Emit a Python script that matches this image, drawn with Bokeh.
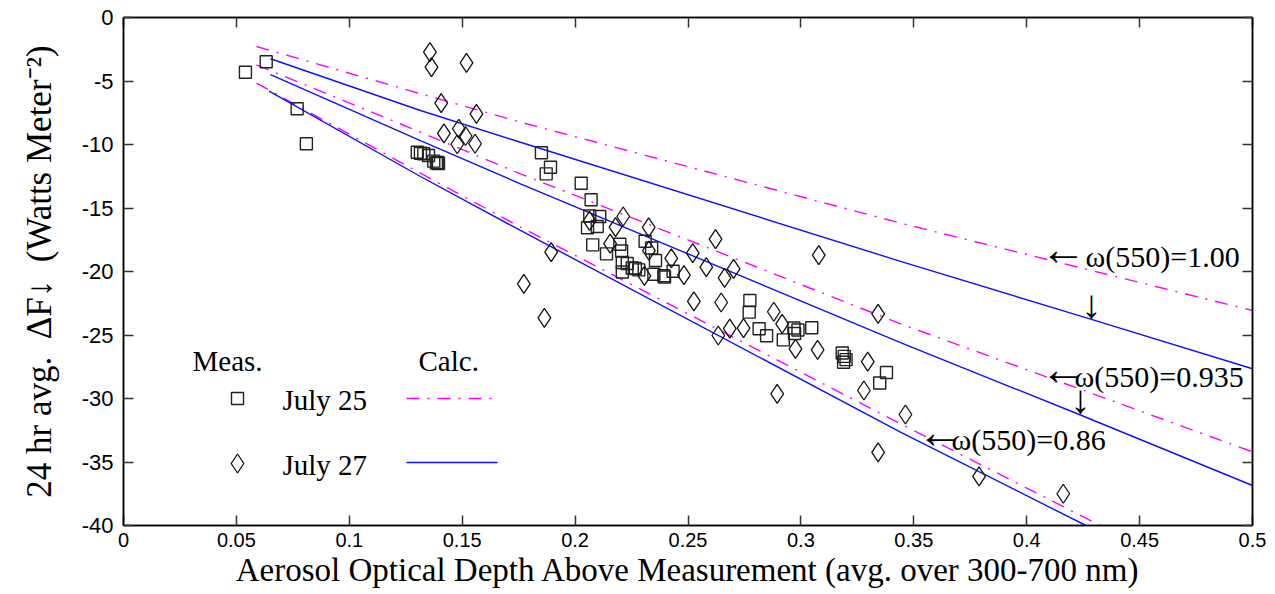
from bokeh.plotting import figure
from bokeh.models import Range1d, FixedTicker, LinearAxis, Label
from bokeh.embed import file_html
from bokeh.resources import INLINE

# ---------------- data ----------------
x_ticks = [0, 0.05, 0.1, 0.15, 0.2, 0.25, 0.3, 0.35, 0.4, 0.45, 0.5]
x_tick_labels = ["0", "0.05", "0.1", "0.15", "0.2", "0.25", "0.3", "0.35", "0.4", "0.45", "0.5"]
y_ticks = [0, -5, -10, -15, -20, -25, -30, -35, -40]
y_tick_labels = ["0", "-5", "-10", "-15", "-20", "-25", "-30", "-35", "-40"]

# measured, July 25 (squares)
jul25_aod = [0.0540, 0.0632, 0.0769, 0.0810, 0.1301, 0.1315, 0.1330, 0.1351, 0.1374, 0.1386,
             0.1392, 0.1395, 0.1851, 0.1891, 0.1872, 0.2027, 0.2071, 0.2065, 0.2109, 0.2055,
             0.2098, 0.2078, 0.2139, 0.2198, 0.2206, 0.2209, 0.2209, 0.2231, 0.2253, 0.2267,
             0.2282, 0.2310, 0.2339, 0.2356, 0.2349, 0.2393, 0.2396, 0.2434, 0.2774, 0.2771,
             0.2815, 0.2848, 0.2922, 0.2969, 0.2987, 0.2972, 0.3048, 0.3183, 0.3192, 0.3200,
             0.3189, 0.3379, 0.3349]
jul25_dF = [-4.31, -3.49, -7.19, -9.94, -10.61, -10.69, -10.73, -10.87, -11.31, -11.47,
            -11.42, -11.50, -10.65, -11.79, -12.31, -13.05, -14.35, -15.63, -15.67, -16.55,
            -16.46, -17.90, -18.61, -17.86, -18.39, -19.29, -20.04, -19.37, -19.72, -19.76,
            -19.87, -17.62, -18.15, -19.13, -20.22, -20.34, -20.43, -19.98, -22.28, -23.20,
            -24.51, -25.06, -25.38, -24.45, -24.61, -24.88, -24.43, -26.42, -26.68, -26.94,
            -27.14, -27.95, -28.78]

# measured, July 27 (diamonds)
jul27_aod = [0.1357, 0.1364, 0.1519, 0.1407, 0.1563, 0.1419, 0.1485, 0.1515, 0.1478, 0.1557,
             0.1894, 0.1773, 0.1864, 0.2064, 0.2213, 0.2179, 0.2155, 0.2326, 0.2327, 0.2307,
             0.2426, 0.2482, 0.2521, 0.2581, 0.2622, 0.2662, 0.2702, 0.2526, 0.2647, 0.2634,
             0.2685, 0.2746, 0.2880, 0.2917, 0.2976, 0.3074, 0.2895, 0.3079, 0.3342, 0.3296,
             0.3279, 0.3342, 0.3463, 0.3789, 0.4162]
jul27_dF = [-2.73, -3.91, -3.57, -6.75, -7.58, -9.13, -8.76, -9.33, -9.98, -9.94,
            -18.48, -20.97, -23.65, -16.02, -15.67, -16.51, -17.80, -16.52, -18.35, -20.35,
            -18.96, -20.28, -18.56, -19.66, -17.45, -20.51, -19.79, -22.35, -22.44, -25.04,
            -24.49, -24.45, -23.17, -24.12, -26.09, -26.17, -29.63, -18.71, -23.33, -27.10,
            -29.37, -34.25, -31.26, -36.14, -37.50]

# calculated, July 25 (magenta dash-dot), single scattering albedo 1.00 / 0.935 / 0.86
calc25_w100_aod = [0.0589, 0.1315, 0.1758, 0.3441, 0.5]
calc25_w100_dF = [-2.28, -6.00, -8.24, -16.19, -23.07]
calc25_w0935_aod = [0.0589, 0.1315, 0.1758, 0.3441, 0.5]
calc25_w0935_dF = [-3.73, -9.03, -12.31, -24.12, -34.20]
calc25_w086_aod = [0.0589, 0.1279, 0.1758, 0.3441, 0.4326]
calc25_w086_dF = [-5.17, -11.91, -16.50, -31.99, -40.00]

# calculated, July 27 (blue solid)
calc27_w100_aod = [0.0651, 0.1315, 0.1758, 0.3441, 0.4283, 0.5]
calc27_w100_dF = [-3.25, -7.32, -9.82, -19.20, -23.75, -27.66]
calc27_w0935_aod = [0.0651, 0.1315, 0.1758, 0.3441, 0.4238, 0.5]
calc27_w0935_dF = [-4.49, -9.69, -13.10, -25.60, -31.30, -36.85]
calc27_w086_aod = [0.0645, 0.1315, 0.1758, 0.3441, 0.4262]
calc27_w086_dF = [-5.80, -12.52, -16.77, -32.65, -40.00]

# ---------------- layout helpers (image px -> data) ----------------
X0, XS, Y0, YS = 123.0, 2258.0, 17.0, 12.7
def dx(px):
    return (px - X0) / XS
def dy(py):
    return -(py - Y0) / YS

SERIF = "Liberation Serif"
SANS = "Liberation Sans"
MAG = "#ff00ff"
BLUE = "#1010ff"
DASHDOT = "13 8 2 8"

p = figure(width=1272, height=592, x_range=Range1d(0, 0.5), y_range=Range1d(-40, 0),
           output_backend="svg", toolbar_location=None,
           min_border_left=123, min_border_right=20, min_border_top=17, min_border_bottom=67)
p.grid.visible = False
p.outline_line_color = "black"
p.outline_line_width = 1.5
p.background_fill_color = "white"
p.border_fill_color = "white"

def style_axis(ax, ticks, labels, show_labels, size="20px"):
    ax.ticker = FixedTicker(ticks=ticks)
    ax.major_tick_in = 10
    ax.major_tick_out = 0
    ax.minor_tick_line_color = None
    ax.major_tick_line_color = "#333333"
    ax.major_tick_line_width = 1.5
    ax.axis_line_color = "black"
    ax.axis_line_width = 1.5
    ax.major_label_text_font = SANS
    ax.major_label_text_color = "black"
    if show_labels:
        ax.major_label_overrides = {t: l for t, l in zip(ticks, labels)}
        ax.major_label_text_font_size = size
    else:
        ax.major_label_overrides = {t: "" for t in ticks}
        ax.major_label_text_font_size = "10px"
        ax.major_label_standoff = 0

xa = p.xaxis[0]
style_axis(xa, x_ticks, x_tick_labels, True, "20px")
xa.major_label_standoff = 7
xa.axis_label = "Aerosol Optical Depth Above Measurement (avg. over 300-700 nm)"
xa.axis_label_text_font = SERIF
xa.axis_label_text_font_size = "33px"
xa.axis_label_text_font_style = "normal"
xa.axis_label_text_color = "black"
xa.axis_label_standoff = 2

ya = p.yaxis[0]
style_axis(ya, y_ticks, y_tick_labels, True, "22px")
ya.major_label_standoff = 10
ya.axis_label = "24 hr avg.\u00a0\u00a0\u0394F\u2193\u00a0\u00a0(Watts Meter\u207b\u00b2)"
ya.axis_label_text_font = SERIF
ya.axis_label_text_font_size = "35px"
ya.axis_label_text_font_style = "normal"
ya.axis_label_text_color = "black"
ya.axis_label_standoff = 20

ra = LinearAxis()
style_axis(ra, y_ticks, y_tick_labels, False)
p.add_layout(ra, "right")
ta = LinearAxis()
style_axis(ta, x_ticks, x_tick_labels, False)
p.add_layout(ta, "above")

# calculated curves
for xs, ys in [(calc25_w100_aod, calc25_w100_dF), (calc25_w0935_aod, calc25_w0935_dF),
               (calc25_w086_aod, calc25_w086_dF)]:
    p.line(xs, ys, line_color=MAG, line_width=1.4, line_dash=DASHDOT)
for xs, ys in [(calc27_w100_aod, calc27_w100_dF), (calc27_w0935_aod, calc27_w0935_dF),
               (calc27_w086_aod, calc27_w086_dF)]:
    p.line(xs, ys, line_color=BLUE, line_width=1.4)

# measurements
p.scatter(jul25_aod, jul25_dF, marker="square", size=12, fill_color=None,
          line_color="#222222", line_width=1.4)
p.scatter(jul27_aod, jul27_dF, marker="diamond", size=19, fill_color=None,
          line_color="#111111", line_width=1.3)

# legend (hand drawn)
def lab(px, py, text, size="29px", align="left", font=SERIF):
    p.add_layout(Label(x=dx(px), y=dy(py), text=text, text_font=font, text_font_size=size,
                       text_baseline="middle", text_align=align, text_color="black"))

lab(192, 360, "Meas.")
lab(418, 360, "Calc.")
p.scatter([dx(237)], [dy(398)], marker="square", size=12, fill_color=None,
          line_color="#222222", line_width=1.4)
p.scatter([dx(237)], [dy(463)], marker="diamond", size=19, fill_color=None,
          line_color="#111111", line_width=1.3)
lab(282, 399, "July 25")
lab(282, 464, "July 27")
p.line([dx(406), dx(497)], [dy(398), dy(398)], line_color=MAG, line_width=1.4, line_dash=DASHDOT)
p.line([dx(406), dx(497)], [dy(462), dy(462)], line_color=BLUE, line_width=1.4)

# curve annotations (thin serif arrows)
lab(1040, 249, "\u2190", size="46px")
lab(1085, 256, "\u03c9(550)=1.00", size="30px")
lab(1091, 304, "\u2193", size="40px", align="center")
lab(1040, 369, "\u2190", size="46px")
lab(1074, 376, "\u03c9(550)=0.935", size="30px")
lab(1080, 399, "\u2193", size="40px", align="center")
lab(917, 432, "\u2190", size="46px")
lab(951, 439, "\u03c9(550)=0.86", size="30px")

open("out.html", "w").write(file_html(p, INLINE))
